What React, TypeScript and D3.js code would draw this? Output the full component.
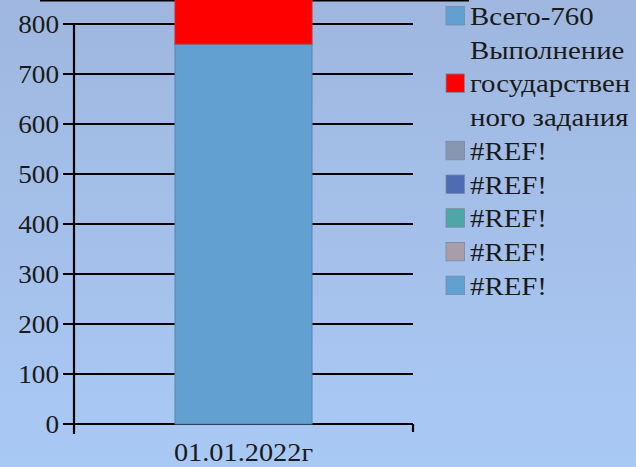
import * as d3 from 'd3'

const categories = ['01.01.2022г']
const totalValues = [760]
const stateTaskValues = [100]
const yTicks = [0, 100, 200, 300, 400, 500, 600, 700, 800]

const legendItems = [
  { lines: ['Всего-760'], color: '#62a0d2' },
  { lines: ['Выполнение', 'государствен', 'ного задания'], color: '#ff0000' },
  { lines: ['#REF!'], color: '#8797b1' },
  { lines: ['#REF!'], color: '#4e6cb2' },
  { lines: ['#REF!'], color: '#4fa6a6' },
  { lines: ['#REF!'], color: '#a89ea9' },
  { lines: ['#REF!'], color: '#62a0d2' },
]

const W = 636
const H = 467
const font = "'Liberation Serif', 'DejaVu Serif', serif"

export default function App() {
  const x = d3
    .scaleBand<string>()
    .domain(categories)
    .range([74, 413])
    .paddingInner(0)
    .paddingOuter(0.737)

  const y = d3.scaleLinear().domain([0, 800]).range([424, 24])

  const stacked = categories.map((c, i) => ({
    cat: c,
    total: totalValues[i],
    task: stateTaskValues[i],
  }))

  // legend rows, one per text line (baselines)
  let row = 0
  const lineH = 33.7
  const top = 25
  const legendRows: { text: string; by: number }[] = []
  const legendSwatches: { color: string; by: number }[] = []
  legendItems.forEach((item) => {
    const start = row
    item.lines.forEach((t) => {
      legendRows.push({ text: t, by: top + row * lineH })
      row++
    })
    const mid = start + (item.lines.length - 1) / 2
    legendSwatches.push({ color: item.color, by: top + mid * lineH })
  })

  return (
    <svg
      width={W}
      height={H}
      style={{ position: 'absolute', left: 0, top: 0, fontFamily: font }}
    >
      <defs>
        <linearGradient id="bg" x1="0" y1="0" x2="0" y2="1">
          <stop offset="0" stopColor="#9fb7df" />
          <stop offset="1" stopColor="#a9c9f5" />
        </linearGradient>
      </defs>
      <rect width={W} height={H} fill="url(#bg)" />

      {/* title underline, cut off at the top */}
      <line x1={40} x2={469} y1={0.5} y2={0.5} stroke="#000" strokeWidth={2} />

      {/* grid lines */}
      {yTicks.map((t) => (
        <line
          key={t}
          x1={63}
          x2={413}
          y1={y(t)}
          y2={y(t)}
          stroke="#000"
          strokeWidth={2.2}
        />
      ))}

      {/* bars */}
      {stacked.map((d) => (
        <g key={d.cat}>
          <rect
            x={x(d.cat)}
            y={y(d.total)}
            width={x.bandwidth()}
            height={y(0) - y(d.total)}
            fill="#62a0d2"
            stroke="#5b86ad"
            strokeWidth={1}
          />
          <rect
            x={x(d.cat)}
            y={y(d.total + d.task)}
            width={x.bandwidth()}
            height={y(d.total) - y(d.total + d.task)}
            fill="#ff0000"
            stroke="#c03030"
            strokeWidth={1}
          />
        </g>
      ))}

      {/* axes */}
      <line x1={74} x2={74} y1={y(800)} y2={434} stroke="#000" strokeWidth={2.2} />
      <line x1={413} x2={413} y1={y(0)} y2={432} stroke="#000" strokeWidth={2.2} />

      {yTicks.map((t) => (
        <text
          key={t}
          transform={`translate(59,${y(t) + 8.5}) scale(1.09,1)`}
          textAnchor="end"
          fontSize={25}
          fill="#1a1a1a"
        >
          {t}
        </text>
      ))}

      {categories.map((c) => (
        <text
          key={c}
          transform={`translate(${(x(c) ?? 0) + x.bandwidth() / 2},461) scale(1.09,1)`}
          textAnchor="middle"
          fontSize={26}
          fill="#1a1a1a"
        >
          {c}
        </text>
      ))}

      {/* legend */}
      {legendSwatches.map((s, i) => (
        <rect
          key={i}
          x={446}
          y={s.by - 18.5}
          width={18.5}
          height={18.5}
          fill={s.color}
          stroke="#7a8aa0"
          strokeWidth={0.8}
        />
      ))}
      {legendRows.map((r, i) => (
        <text
          key={i}
          transform={`translate(470,${r.by}) scale(1.11,1)`}
          fontSize={26}
          fill="#1a1a1a"
        >
          {r.text}
        </text>
      ))}
    </svg>
  )
}
